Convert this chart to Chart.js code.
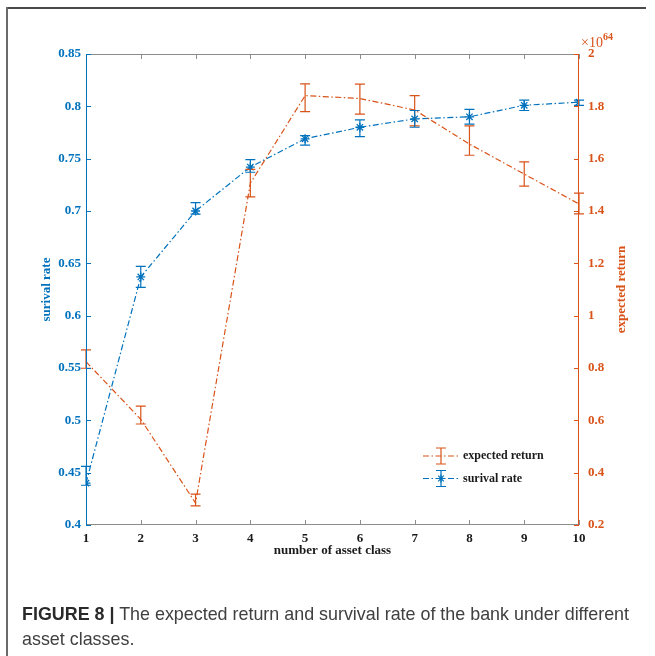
<!DOCTYPE html>
<html>
<head>
<meta charset="utf-8">
<script src="https://cdn.jsdelivr.net/npm/chart.js@4/dist/chart.umd.min.js"></script>
<style>
  html, body { margin: 0; padding: 0; background: #ffffff; }
  #wrap { position: relative; width: 655px; height: 656px; overflow: hidden; }
  #c { position: absolute; left: 0; top: 0; }
  .frameTop { position: absolute; left: 6px; top: 7px; width: 640px; height: 2px; background: #4a4a4a; }
  .frameLeft { position: absolute; left: 6px; top: 7px; width: 2px; height: 660px; background: #6a6a6a; }
  #caption { position: absolute; left: 22px; top: 602px; width: 622px; font-family: "Liberation Sans", Arial, sans-serif;
             font-size: 17.9px; line-height: 25px; color: #404040; white-space: normal; }
  #caption b { color: #2a2a2a; }
</style>
</head>
<body>
<div id="wrap">
  <canvas id="c" width="655" height="656"></canvas>
  <div class="frameTop"></div>
  <div class="frameLeft"></div>
  <div id="caption"><b>FIGURE 8 |</b> The expected return and survival rate of the bank under different asset classes.</div>
</div>
<script>
// ---- data ----
const assetClasses = [1, 2, 3, 4, 5, 6, 7, 8, 9, 10];

const survivalRate     = [0.440, 0.637, 0.700, 0.742, 0.769, 0.780, 0.788, 0.790, 0.801, 0.804];
const survivalErrLow   = [0.002, 0.010, 0.003, 0.005, 0.006, 0.009, 0.008, 0.007, 0.005, 0.003];
const survivalErrHigh  = [0.016, 0.010, 0.008, 0.007, 0.003, 0.007, 0.008, 0.007, 0.005, 0.002];

// expected return in units of 1e64
const expectedReturn   = [0.824, 0.604, 0.284, 1.506, 1.841, 1.830, 1.786, 1.656, 1.541, 1.427];
const expectedErrLow   = [0.025, 0.018, 0.011, 0.052, 0.061, 0.060, 0.061, 0.043, 0.046, 0.038];
const expectedErrHigh  = [0.045, 0.050, 0.034, 0.053, 0.045, 0.055, 0.055, 0.069, 0.047, 0.041];

const xTicks     = [1, 2, 3, 4, 5, 6, 7, 8, 9, 10];
const leftTicks  = [0.4, 0.45, 0.5, 0.55, 0.6, 0.65, 0.7, 0.75, 0.8, 0.85];
const rightTicks = [0.2, 0.4, 0.6, 0.8, 1, 1.2, 1.4, 1.6, 1.8, 2];

const seriesNames = ['expected return', 'surival rate'];
const axisTitles = { x: 'number of asset class', left: 'surival rate', right: 'expected return' };
const exponentBase = '\u00d710', exponentPower = '64';

// ---- styles ----
const BLUE = '#0072BD';
const ORANGE = '#D95319';
const SERIF = '"Liberation Serif", "Times New Roman", serif';
const DASHDOT = [6, 2.5, 1.5, 2.5];

const errorBars = [
  { low: expectedErrLow, high: expectedErrHigh, values: expectedReturn, color: ORANGE, axis: 'y1' },
  { low: survivalErrLow, high: survivalErrHigh, values: survivalRate, color: BLUE, axis: 'y' }
];

function fmt(v) { return String(+Number(v).toFixed(2)); }

const decorPlugin = {
  id: 'decor',
  afterDatasetsDraw(chart) {
    const ctx = chart.ctx;
    const xs = chart.scales.x;
    ctx.save();
    errorBars.forEach(eb => {
      const ys = chart.scales[eb.axis];
      ctx.strokeStyle = eb.color;
      ctx.lineWidth = 1.2;
      ctx.setLineDash([]);
      assetClasses.forEach((c, i) => {
        const px = xs.getPixelForValue(c);
        const top = ys.getPixelForValue(eb.values[i] + eb.high[i]);
        const bot = ys.getPixelForValue(eb.values[i] - eb.low[i]);
        ctx.beginPath();
        ctx.moveTo(px, top); ctx.lineTo(px, bot);
        ctx.moveTo(px - 5, top); ctx.lineTo(px + 5, top);
        ctx.moveTo(px - 5, bot); ctx.lineTo(px + 5, bot);
        ctx.stroke();
      });
    });
    ctx.restore();
  },
  afterDraw(chart) {
    const ctx = chart.ctx;
    const xs = chart.scales.x, yl = chart.scales.y, yr = chart.scales.y1;
    const a = chart.chartArea;
    ctx.save();
    ctx.setLineDash([]);
    ctx.strokeStyle = '#8c8c8c';
    ctx.lineWidth = 1;
    ctx.beginPath();
    ctx.moveTo(a.left, a.top + 0.5); ctx.lineTo(a.right, a.top + 0.5);
    ctx.moveTo(a.left, a.bottom - 0.5); ctx.lineTo(a.right, a.bottom - 0.5);
    xTicks.forEach(t => {
      const px = Math.round(xs.getPixelForValue(t)) + 0.5;
      ctx.moveTo(px, a.top); ctx.lineTo(px, a.top + 5);
      ctx.moveTo(px, a.bottom); ctx.lineTo(px, a.bottom - 5);
    });
    ctx.stroke();
    ctx.strokeStyle = BLUE;
    ctx.beginPath();
    ctx.moveTo(a.left + 0.5, a.top); ctx.lineTo(a.left + 0.5, a.bottom);
    leftTicks.forEach(t => {
      const py = Math.round(yl.getPixelForValue(t)) + 0.5;
      ctx.moveTo(a.left, py); ctx.lineTo(a.left + 5, py);
    });
    ctx.stroke();
    ctx.strokeStyle = ORANGE;
    ctx.beginPath();
    ctx.moveTo(a.right - 0.5, a.top); ctx.lineTo(a.right - 0.5, a.bottom);
    rightTicks.forEach(t => {
      const py = Math.round(yr.getPixelForValue(t)) + 0.5;
      ctx.moveTo(a.right, py); ctx.lineTo(a.right - 5, py);
    });
    ctx.stroke();

    ctx.font = 'bold 13px ' + SERIF;
    ctx.textAlign = 'center';
    ctx.textBaseline = 'middle';
    ctx.fillStyle = '#1a1a1a';
    ctx.fillText(axisTitles.x, (a.left + a.right) / 2, 551);
    ctx.save();
    ctx.translate(47, (a.top + a.bottom) / 2);
    ctx.rotate(-Math.PI / 2);
    ctx.fillStyle = BLUE;
    ctx.fillText(axisTitles.left, 0, 0);
    ctx.restore();
    ctx.save();
    ctx.translate(622, (a.top + a.bottom) / 2);
    ctx.rotate(-Math.PI / 2);
    ctx.fillStyle = ORANGE;
    ctx.fillText(axisTitles.right, 0, 0);
    ctx.restore();

    ctx.fillStyle = ORANGE;
    ctx.textAlign = 'left';
    ctx.textBaseline = 'alphabetic';
    ctx.font = '14px ' + SERIF;
    ctx.fillText(exponentBase, a.right + 2, 47);
    const w = ctx.measureText(exponentBase).width;
    ctx.font = 'bold 10px ' + SERIF;
    ctx.fillText(exponentPower, a.right + 2 + w, 40);

    const lx0 = 423, lx1 = 459, lmid = 441, tx = 463;
    const rows = [
      { y: 456, color: ORANGE, star: false, name: seriesNames[0] },
      { y: 478.5, color: BLUE, star: true, name: seriesNames[1] }
    ];
    rows.forEach(r => {
      ctx.strokeStyle = r.color;
      ctx.lineWidth = 1.2;
      ctx.setLineDash(DASHDOT);
      ctx.beginPath();
      ctx.moveTo(lx0, r.y); ctx.lineTo(lx1, r.y);
      ctx.stroke();
      ctx.setLineDash([]);
      ctx.beginPath();
      ctx.moveTo(lmid, r.y - 8); ctx.lineTo(lmid, r.y + 8);
      ctx.moveTo(lmid - 5, r.y - 8); ctx.lineTo(lmid + 5, r.y - 8);
      ctx.moveTo(lmid - 5, r.y + 8); ctx.lineTo(lmid + 5, r.y + 8);
      ctx.stroke();
      if (r.star) {
        ctx.beginPath();
        for (let k = 0; k < 4; k++) {
          const ang = k * Math.PI / 4;
          ctx.moveTo(lmid - 4 * Math.cos(ang), r.y - 4 * Math.sin(ang));
          ctx.lineTo(lmid + 4 * Math.cos(ang), r.y + 4 * Math.sin(ang));
        }
        ctx.stroke();
      }
      ctx.fillStyle = '#1a1a1a';
      ctx.font = 'bold 12px ' + SERIF;
      ctx.textBaseline = 'middle';
      ctx.fillText(r.name, tx, r.y);
    });
    ctx.restore();
  }
};

const tickFont = { family: SERIF, weight: 'bold', size: 13 };

new Chart(document.getElementById('c'), {
  type: 'line',
  data: {
    datasets: [
      {
        label: seriesNames[0],
        data: assetClasses.map((c, i) => ({ x: c, y: expectedReturn[i] })),
        yAxisID: 'y1',
        borderColor: ORANGE,
        borderWidth: 1.2,
        borderDash: DASHDOT,
        pointRadius: 0,
        tension: 0,
        fill: false
      },
      {
        label: seriesNames[1],
        data: assetClasses.map((c, i) => ({ x: c, y: survivalRate[i] })),
        yAxisID: 'y',
        borderColor: BLUE,
        borderWidth: 1.2,
        borderDash: DASHDOT,
        pointStyle: 'star',
        pointRadius: 4.5,
        pointBorderColor: BLUE,
        pointBackgroundColor: BLUE,
        pointBorderWidth: 1.3,
        tension: 0,
        fill: false
      }
    ]
  },
  options: {
    responsive: false,
    animation: false,
    devicePixelRatio: 1,
    layout: { padding: { top: 54, left: 0, right: 0, bottom: 0 } },
    plugins: { legend: { display: false }, tooltip: { enabled: false } },
    scales: {
      x: {
        type: 'linear', min: 1, max: 10,
        afterBuildTicks: s => { s.ticks = xTicks.map(v => ({ value: v })); },
        ticks: { color: '#1a1a1a', font: tickFont, padding: 6, callback: v => fmt(v), maxRotation: 0, autoSkip: false },
        grid: { display: false, drawTicks: false },
        border: { display: false },
        afterFit: s => { s.height = 131; }
      },
      y: {
        position: 'left', min: 0.4, max: 0.85,
        afterBuildTicks: s => { s.ticks = leftTicks.map(v => ({ value: v })); },
        ticks: { color: BLUE, font: tickFont, padding: 5, callback: v => fmt(v), autoSkip: false },
        grid: { display: false, drawTicks: false },
        border: { display: false },
        afterFit: s => { s.width = 86; }
      },
      y1: {
        position: 'right', min: 0.2, max: 2,
        afterBuildTicks: s => { s.ticks = rightTicks.map(v => ({ value: v })); },
        ticks: { color: ORANGE, font: tickFont, padding: 9, callback: v => fmt(v), autoSkip: false },
        grid: { display: false, drawTicks: false },
        border: { display: false },
        afterFit: s => { s.width = 76; }
      }
    }
  },
  plugins: [decorPlugin]
});
</script>
</body>
</html>
